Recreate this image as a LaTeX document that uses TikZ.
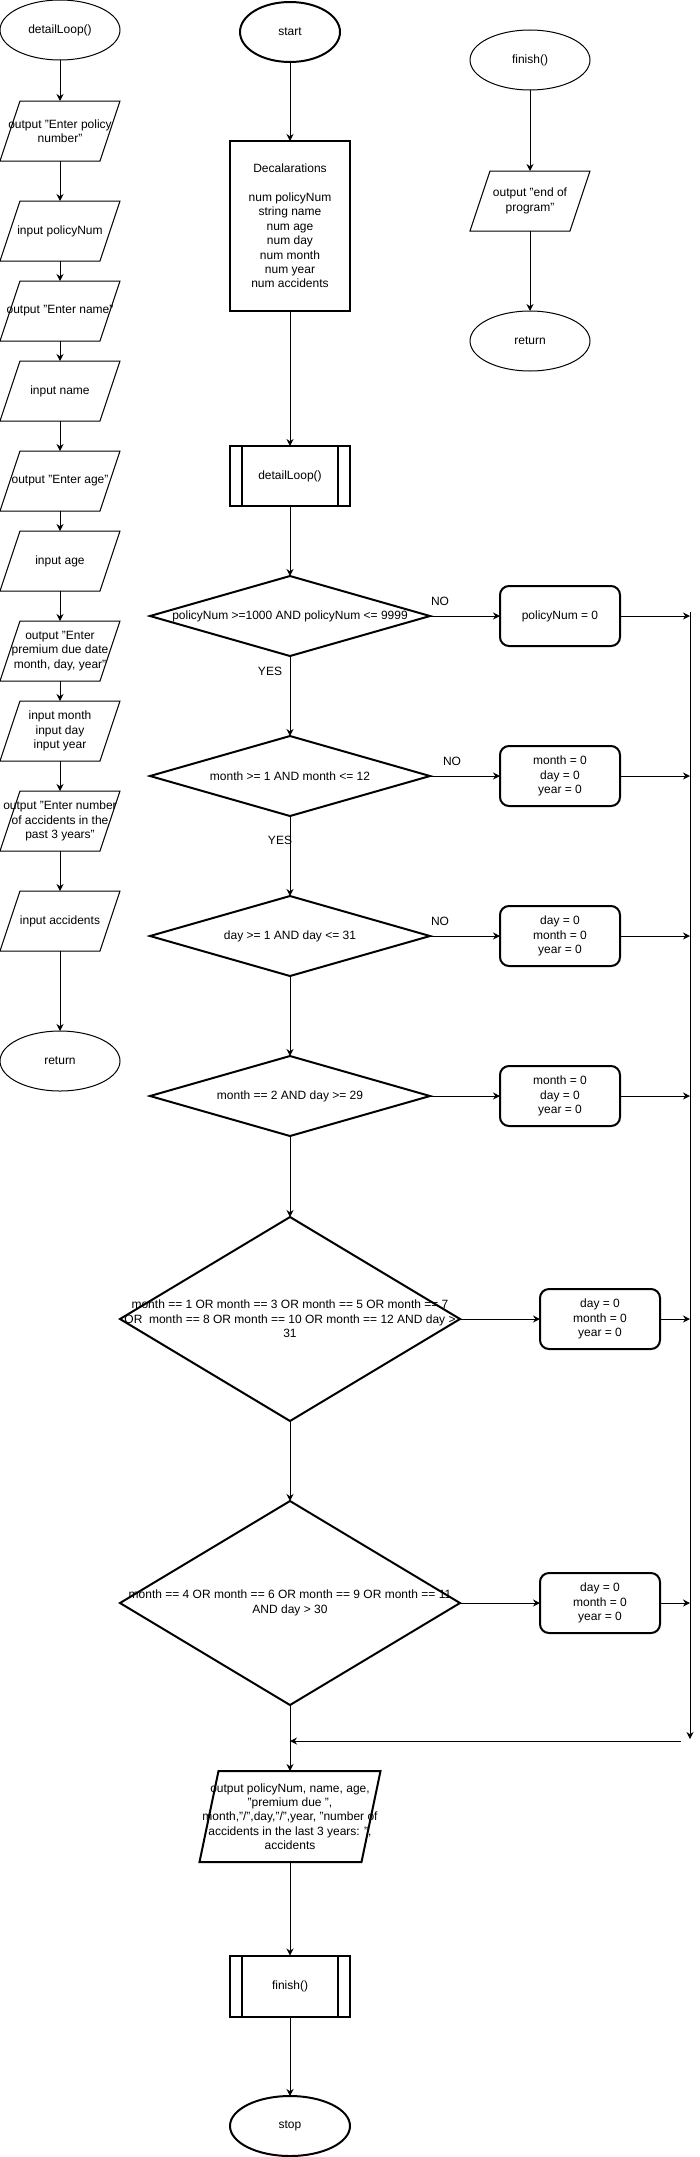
\documentclass[tikz,border=0pt]{standalone}
\usepackage{fontspec}
\setmainfont{Liberation Sans}
\usetikzlibrary{arrows.meta,shapes.geometric}
\begin{document}
\begin{tikzpicture}[x=1pt,y=-1pt,
  every node/.style={outer sep=0pt, inner sep=0pt},
  txt/.style={font=\fontsize{12pt}{14.4pt}\selectfont, align=center, text=black},
  lbl/.style={label={[txt]center:{#1}}},
  thin1/.style={line width=1pt},
  thick2/.style={line width=2pt},
  arr/.style={line width=1pt, -{Stealth[length=7pt,width=7pt]}},
  term/.style={ellipse, draw, minimum width=120pt, minimum height=60pt},
  box/.style={rectangle, minimum width=120pt, minimum height=60pt},
  dec/.style={diamond, draw, thick2, minimum width=280pt, minimum height=80pt},
  act/.style={rectangle, draw, thick2, rounded corners=9pt, minimum width=120pt, minimum height=60pt},
]
\useasboundingbox (0,0) rectangle (699,2157);

% ---------- left column ----------
\node[term, thin1, lbl={detailLoop()}] (dl) at (60,30) {};
\node[box, lbl={output "Enter policy\\number"}] (p1) at (60,131) {};
\node[box, lbl={input policyNum}] (p2) at (60,231) {};
\node[box, lbl={output "Enter name"}] (p3) at (60,311) {};
\node[box, lbl={input name}] (p4) at (60,391) {};
\node[box, lbl={output "Enter age"}] (p5) at (60,481) {};
\node[box, lbl={input age}] (p6) at (60,561) {};
\node[box, lbl={output "Enter\\premium due date\\month, day, year"}] (p7) at (60,651) {};
\node[box, lbl={input month\\input day\\input year}] (p8) at (60,731) {};
\node[box, lbl={output "Enter number\\of accidents in the\\past 3 years"}] (p9) at (60,821) {};
\node[box, lbl={input accidents}] (p10) at (60,921) {};
\node[term, thin1, lbl={return}] (r1) at (60,1061) {};

% ---------- right column ----------
\node[term, thin1, lbl={finish()}] (fin) at (530,60) {};
\node[box, lbl={output "end of\\program"}] (p11) at (530,201) {};
\node[term, thin1, lbl={return}] (r2) at (530,341) {};

\foreach \n in {p1,p2,p3,p4,p5,p6,p7,p8,p9,p10,p11}
  \draw[thin1] ([xshift=20pt]\n.north west) -- (\n.north east) -- ([xshift=-20pt]\n.south east) -- (\n.south west) -- cycle;

% ---------- centre column ----------
\node[term, thick2, minimum width=100pt, lbl={start}] (start) at (290,32) {};
\node[box, draw, thick2, minimum height=170pt, lbl={Decalarations\\[\baselineskip]num policyNum\\string name\\num age\\num day\\num month\\num year\\num accidents}] (decl) at (290,226) {};
\node[box, draw, thick2, lbl={detailLoop()}] (sub1) at (290,476) {};
\node[dec, lbl={policyNum >=1000 AND policyNum <= 9999}] (d1) at (290,616) {};
\node[dec, lbl={month >= 1 AND month <= 12}] (d2) at (290,776) {};
\node[dec, lbl={day >= 1 AND day <= 31}] (d3) at (290,936) {};
\node[dec, lbl={month == 2 AND day >= 29}] (d4) at (290,1096) {};
\node[dec, minimum width=340pt, minimum height=204pt, lbl={month == 1 OR month == 3 OR month == 5 OR month == 7\\OR~ month == 8 OR month == 10 OR month == 12 AND day >\\31}] (d5) at (290,1319) {};
\node[dec, minimum width=340pt, minimum height=204pt, lbl={month == 4 OR month == 6 OR month == 9 OR month == 11\\AND day > 30}] (d6) at (290,1603) {};
\node[box, minimum width=181pt, minimum height=91pt, lbl={output policyNum, name, age,\\"premium due ",\\month,"/",day,"/",year, "number of\\accidents in the last 3 years: ",\\accidents}] (out) at (290,1816.5) {};
\draw[thick2] ([xshift=19pt]out.north west) -- (out.north east) -- ([xshift=-19pt]out.south east) -- (out.south west) -- cycle;
\node[box, draw, thick2, minimum height=61pt, lbl={finish()}] (sub2) at (290,1986) {};
\node[term, thick2, lbl={stop}] (stop) at (290,2126) {};

\foreach \n in {sub1,sub2} {
  \draw[thick2] ([xshift=12pt]\n.north west) -- ([xshift=12pt]\n.south west);
  \draw[thick2] ([xshift=-12pt]\n.north east) -- ([xshift=-12pt]\n.south east);
}

% ---------- assignment boxes ----------
\node[act, lbl={policyNum = 0}] (b1) at (560,616) {};
\node[act, lbl={month = 0\\day = 0\\year = 0}] (b2) at (560,776) {};
\node[act, lbl={day = 0\\month = 0\\year = 0}] (b3) at (560,936) {};
\node[act, lbl={month = 0\\day = 0\\year = 0}] (b4) at (560,1096) {};
\node[act, lbl={day = 0\\month = 0\\year = 0}] (b5) at (600,1319) {};
\node[act, lbl={day = 0\\month = 0\\year = 0}] (b6) at (600,1603) {};

% ---------- labels ----------
\node[txt] (no1) at (440,601) {NO};
\node[txt] (no2) at (452,761) {NO};
\node[txt] (no3) at (440,921) {NO};
\node[txt] (yes1) at (270,671) {YES};
\node[txt] (yes2) at (280,840) {YES};

% ---------- connectors ----------
\draw[arr] (dl) -- (p1);
\draw[arr] (p1) -- (p2);
\draw[arr] (p2) -- (p3);
\draw[arr] (p3) -- (p4);
\draw[arr] (p4) -- (p5);
\draw[arr] (p5) -- (p6);
\draw[arr] (p6) -- (p7);
\draw[arr] (p7) -- (p8);
\draw[arr] (p8) -- (p9);
\draw[arr] (p9) -- (p10);
\draw[arr] (p10) -- (r1);

\draw[arr] (fin) -- (p11);
\draw[arr] (p11) -- (r2);

\draw[arr] (start) -- (decl);
\draw[arr] (decl) -- (sub1);
\draw[arr] (sub1) -- (d1);
\draw[arr] (d1) -- (d2);
\draw[arr] (d2) -- (d3);
\draw[arr] (d3) -- (d4);
\draw[arr] (d4) -- (d5);
\draw[arr] (d5) -- (d6);
\draw[arr] (d6) -- (out);
\draw[arr] (out) -- (sub2);
\draw[arr] (sub2) -- (stop);

\foreach \i in {1,...,6}
  \draw[arr] (d\i.east) -- (b\i.west);

\coordinate (vT) at (690,612);
\coordinate (vB) at (690,1739);
\coordinate (hR) at (681,1741);
\draw[arr] (vT) -- (vB);
\foreach \i in {1,...,6}
  \draw[arr] (b\i.east) -- (b\i.east -| vT);
\draw[arr] (hR) -- (hR -| d6.south);
\end{tikzpicture}
\end{document}
